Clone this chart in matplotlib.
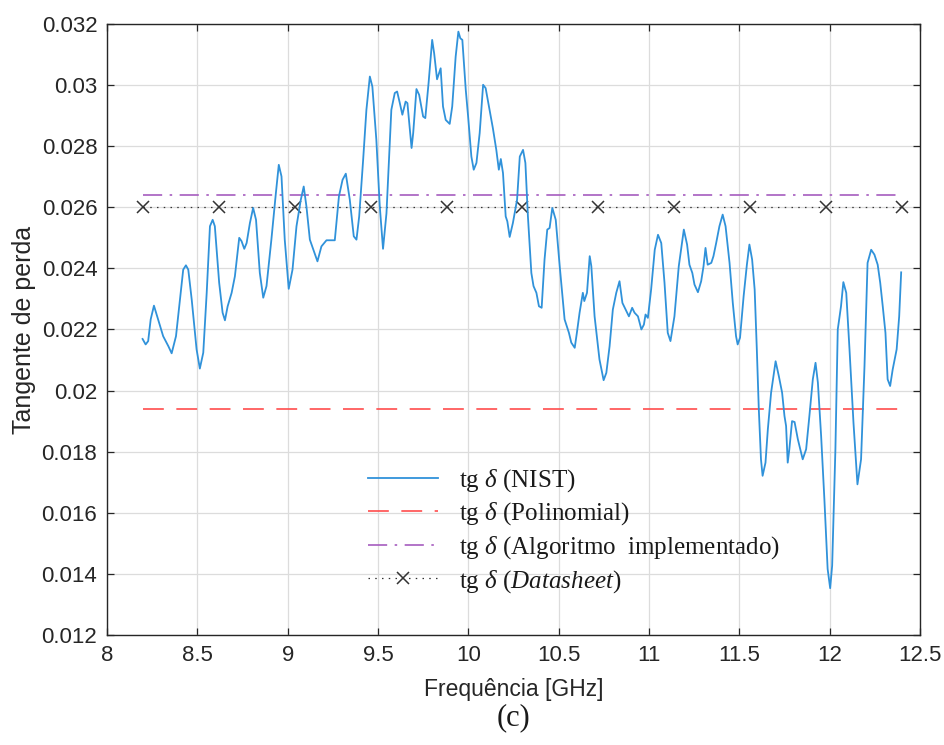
import numpy as np
import matplotlib
matplotlib.use("Agg")
import matplotlib.pyplot as plt

plt.rcParams['font.family'] = ['Liberation Sans', 'DejaVu Sans']
plt.rcParams['mathtext.fontset'] = 'custom'
plt.rcParams['mathtext.rm'] = 'Liberation Serif'
plt.rcParams['mathtext.it'] = 'Liberation Serif:italic'

#%% data

freq_nist = [8.197, 8.214, 8.228, 8.242, 8.260, 8.278, 8.297, 8.311, 8.340, 8.358,
             8.382, 8.404, 8.422, 8.437, 8.450, 8.469, 8.496, 8.514, 8.533, 8.552,
             8.570, 8.585, 8.597, 8.621, 8.640, 8.653, 8.668, 8.690, 8.708, 8.732,
             8.745, 8.760, 8.773, 8.791, 8.809, 8.825, 8.846, 8.865, 8.883, 8.910,
             8.935, 8.951, 8.966, 8.984, 9.006, 9.027, 9.049, 9.073, 9.089, 9.104,
             9.123, 9.141, 9.165, 9.187, 9.215, 9.261, 9.284, 9.304, 9.322, 9.344,
             9.366, 9.381, 9.396, 9.418, 9.436, 9.455, 9.469, 9.491, 9.510, 9.528,
             9.547, 9.574, 9.593, 9.606, 9.621, 9.635, 9.653, 9.663, 9.686, 9.695,
             9.713, 9.728, 9.750, 9.762, 9.780, 9.800, 9.811, 9.827, 9.847, 9.860,
             9.875, 9.897, 9.911, 9.930, 9.945, 9.956, 9.967, 9.986, 9.999, 10.017,
             10.030, 10.045, 10.063, 10.082, 10.096, 10.118, 10.136, 10.155, 10.169, 10.180,
             10.192, 10.207, 10.216, 10.229, 10.247, 10.270, 10.285, 10.303, 10.316, 10.330,
             10.349, 10.361, 10.377, 10.391, 10.406, 10.422, 10.437, 10.450, 10.465, 10.484,
             10.506, 10.533, 10.557, 10.570, 10.589, 10.601, 10.616, 10.634, 10.642, 10.657,
             10.672, 10.681, 10.699, 10.726, 10.749, 10.764, 10.782, 10.800, 10.819, 10.837,
             10.853, 10.871, 10.889, 10.907, 10.920, 10.939, 10.958, 10.972, 10.981, 10.994,
             11.012, 11.032, 11.050, 11.068, 11.086, 11.104, 11.119, 11.141, 11.159, 11.165,
             11.193, 11.211, 11.224, 11.240, 11.252, 11.271, 11.289, 11.302, 11.313, 11.325,
             11.345, 11.357, 11.372, 11.390, 11.408, 11.424, 11.446, 11.464, 11.482, 11.491,
             11.504, 11.524, 11.542, 11.556, 11.571, 11.585, 11.597, 11.608, 11.620, 11.629,
             11.645, 11.658, 11.676, 11.701, 11.719, 11.737, 11.750, 11.759, 11.768, 11.777,
             11.792, 11.806, 11.824, 11.851, 11.870, 11.888, 11.907, 11.922, 11.935, 11.953,
             11.971, 11.989, 12.003, 12.014, 12.032, 12.045, 12.063, 12.076, 12.092, 12.110,
             12.132, 12.154, 12.174, 12.193, 12.210, 12.230, 12.248, 12.266, 12.280, 12.294,
             12.309, 12.321, 12.335, 12.349, 12.371, 12.385, 12.396]

tg_nist = [0.02169, 0.02151, 0.02162, 0.02233, 0.02278, 0.02243, 0.02206, 0.02178, 0.02145, 0.02122,
           0.02178, 0.02298, 0.02396, 0.02410, 0.02396, 0.02298, 0.02135, 0.02072, 0.02124, 0.02320,
           0.02538, 0.02559, 0.02538, 0.02353, 0.02255, 0.02230, 0.02276, 0.02320, 0.02374, 0.02500,
           0.02489, 0.02464, 0.02483, 0.02548, 0.02598, 0.02559, 0.02385, 0.02304, 0.02342, 0.02494,
           0.02647, 0.02739, 0.02701, 0.02494, 0.02333, 0.02396, 0.02538, 0.02625, 0.02668, 0.02603,
           0.02494, 0.02464, 0.02423, 0.02472, 0.02492, 0.02492, 0.02636, 0.02690, 0.02710, 0.02625,
           0.02505, 0.02494, 0.02570, 0.02756, 0.02919, 0.03028, 0.02995, 0.02821, 0.02603, 0.02464,
           0.02580, 0.02919, 0.02974, 0.02979, 0.02941, 0.02903, 0.02946, 0.02941, 0.02794, 0.02843,
           0.02987, 0.02968, 0.02897, 0.02892, 0.03006, 0.03148, 0.03104, 0.03019, 0.03055, 0.02930,
           0.02886, 0.02873, 0.02930, 0.03093, 0.03175, 0.03153, 0.03148, 0.02984, 0.02897, 0.02766,
           0.02723, 0.02745, 0.02843, 0.03001, 0.02990, 0.02919, 0.02859, 0.02788, 0.02723, 0.02758,
           0.02712, 0.02570, 0.02554, 0.02503, 0.02549, 0.02625, 0.02766, 0.02788, 0.02745, 0.02570,
           0.02385, 0.02342, 0.02320, 0.02276, 0.02271, 0.02429, 0.02527, 0.02532, 0.02598, 0.02559,
           0.02407, 0.02233, 0.02189, 0.02157, 0.02140, 0.02189, 0.02255, 0.02320, 0.02293, 0.02320,
           0.02440, 0.02407, 0.02243, 0.02102, 0.02034, 0.02058, 0.02145, 0.02265, 0.02320, 0.02358,
           0.02287, 0.02265, 0.02243, 0.02271, 0.02255, 0.02243, 0.02200, 0.02216, 0.02249, 0.02238,
           0.02331, 0.02461, 0.02510, 0.02483, 0.02353, 0.02189, 0.02162, 0.02243, 0.02363, 0.02407,
           0.02527, 0.02478, 0.02412, 0.02385, 0.02347, 0.02322, 0.02358, 0.02407, 0.02467, 0.02412,
           0.02418, 0.02440, 0.02483, 0.02538, 0.02576, 0.02538, 0.02418, 0.02287, 0.02178, 0.02151,
           0.02173, 0.02309, 0.02412, 0.02478, 0.02429, 0.02331, 0.02135, 0.01939, 0.01775, 0.01721,
           0.01764, 0.01873, 0.01993, 0.02096, 0.02047, 0.01993, 0.01917, 0.01884, 0.01764, 0.01808,
           0.01900, 0.01897, 0.01841, 0.01775, 0.01808, 0.01917, 0.02037, 0.02091, 0.02026, 0.01851,
           0.01644, 0.01416, 0.01353, 0.01427, 0.01808, 0.02200, 0.02276, 0.02355, 0.02320, 0.02135,
           0.01895, 0.01693, 0.01775, 0.02080, 0.02418, 0.02461, 0.02445, 0.02412, 0.02353, 0.02276,
           0.02189, 0.02037, 0.02015, 0.02069, 0.02135, 0.02243, 0.02387]

freq_range = [8.2, 12.4]
tg_polinomial = 0.0194
tg_algoritmo = 0.0264
tg_datasheet = 0.026
freq_datasheet = [8.2, 8.62, 9.04, 9.46, 9.88, 10.3, 10.72, 11.14, 11.56, 11.98, 12.4]

#%%

fig = plt.figure(figsize=(9.45, 7.45), dpi=100)
ax = fig.add_axes([0.1132, 0.1477, 0.8603, 0.8201])

ax.plot(freq_nist, tg_nist, color='#3092da', lw=1.3, label=r'tg $\delta$ (NIST)', zorder=3)
ax.plot(freq_range, [tg_polinomial] * 2, color='#ff4d4d', lw=1.2,
        ls=(0, (12.5, 7.5)), label=r'tg $\delta$ (Polinomial)')
ax.plot(freq_range, [tg_algoritmo] * 2, color='#a65cbf', lw=1.2,
        ls=(0, (11.5, 4.5, 1.5, 4.5)), label=r'tg $\delta$ (Algoritmo  implementado)')
ax.plot(freq_datasheet, [tg_datasheet] * len(freq_datasheet), color='#333333', lw=0.9,
        ls=(0, (1.2, 4.2)), marker='x', ms=8, mew=1.1,
        label=r'tg $\delta$ ($\mathit{Datasheet}$)')

ax.set_xlim(8, 12.5)
ax.set_ylim(0.012, 0.032)
ax.set_xticks(np.arange(8, 12.51, 0.5))
ax.set_yticks(np.arange(0.012, 0.03201, 0.002))
ax.set_xticklabels(['8', '8.5', '9', '9.5', '10', '10.5', '11', '11.5', '12', '12.5'])
ax.set_yticklabels(['0.012', '0.014', '0.016', '0.018', '0.02', '0.022', '0.024',
                    '0.026', '0.028', '0.03', '0.032'])

ax.grid(True, color='#dcdcdc', lw=0.9)
ax.set_axisbelow(True)
ax.tick_params(direction='in', length=5, width=0.9, top=True, right=True,
               labelsize=16, colors='#262626', pad=7)
for s in ax.spines.values():
    s.set_color('#262626')
    s.set_linewidth(1.0)

ax.set_xlabel('Frequência [GHz]', fontsize=16.5, color='#262626', labelpad=9)
ax.set_ylabel('Tangente de perda', fontsize=18, color='#262626', labelpad=4)

leg = ax.legend(loc='upper left', bbox_to_anchor=(368 / 945, 1 - 467 / 745),
                bbox_transform=fig.transFigure, frameon=False, fontsize=18,
                handlelength=2.8, handletextpad=0.85, labelspacing=0.27,
                borderpad=0, borderaxespad=0)
for t in leg.get_texts():
    t.set_family('Liberation Serif')
    t.set_color('#1a1a1a')

fig.text(0.5434, 0.036, '(c)', ha='center', va='center', fontsize=22,
         family='Liberation Serif', color='#1a1a1a')

fig.savefig('out.png', dpi=100)
